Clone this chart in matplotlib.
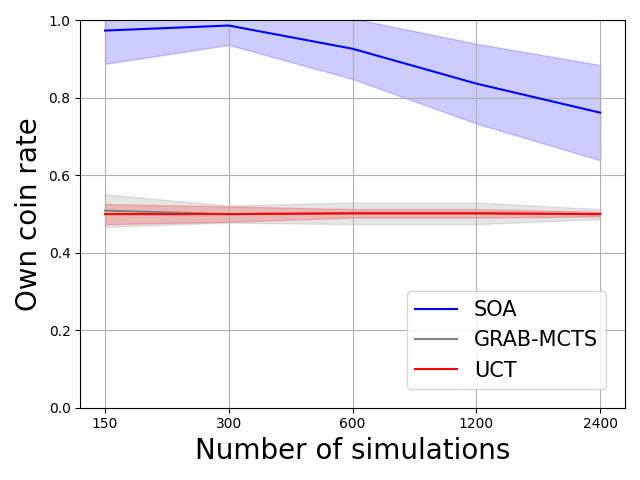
import matplotlib
matplotlib.use("Agg")
import matplotlib.pyplot as plt
import numpy as np

sims = ["150", "300", "600", "1200", "2400"]

soa_mean = [0.974, 0.987, 0.927, 0.837, 0.762]
soa_std = [0.086, 0.050, 0.078, 0.103, 0.123]

grab_mean = [0.509, 0.500, 0.502, 0.502, 0.500]
grab_std = [0.042, 0.022, 0.028, 0.028, 0.013]

uct_mean = [0.500, 0.500, 0.502, 0.502, 0.500]
uct_std = [0.026, 0.020, 0.011, 0.011, 0.006]

x = np.arange(len(sims))

fig, ax = plt.subplots(figsize=(6.4, 4.8), dpi=100)

# mean lines with +-1 std bands
for mean, std, col, name in [(soa_mean, soa_std, "blue", "SOA"),
                             (grab_mean, grab_std, "gray", "GRAB-MCTS"),
                             (uct_mean, uct_std, "red", "UCT")]:
    m = np.array(mean)
    s = np.array(std)
    ax.plot(x, m, color=col, label=name)
    ax.fill_between(x, m - s, m + s, color=col, alpha=0.2)

ax.set_xticks(x)
ax.set_xticklabels(sims)
ax.set_ylim(0, 1)
ax.grid(True)
ax.set_xlabel("Number of simulations", fontsize=20)
ax.set_ylabel("Own coin rate", fontsize=20)
ax.legend(loc="lower right", fontsize=15, borderaxespad=0.9)

plt.tight_layout()
plt.savefig("out.png")
